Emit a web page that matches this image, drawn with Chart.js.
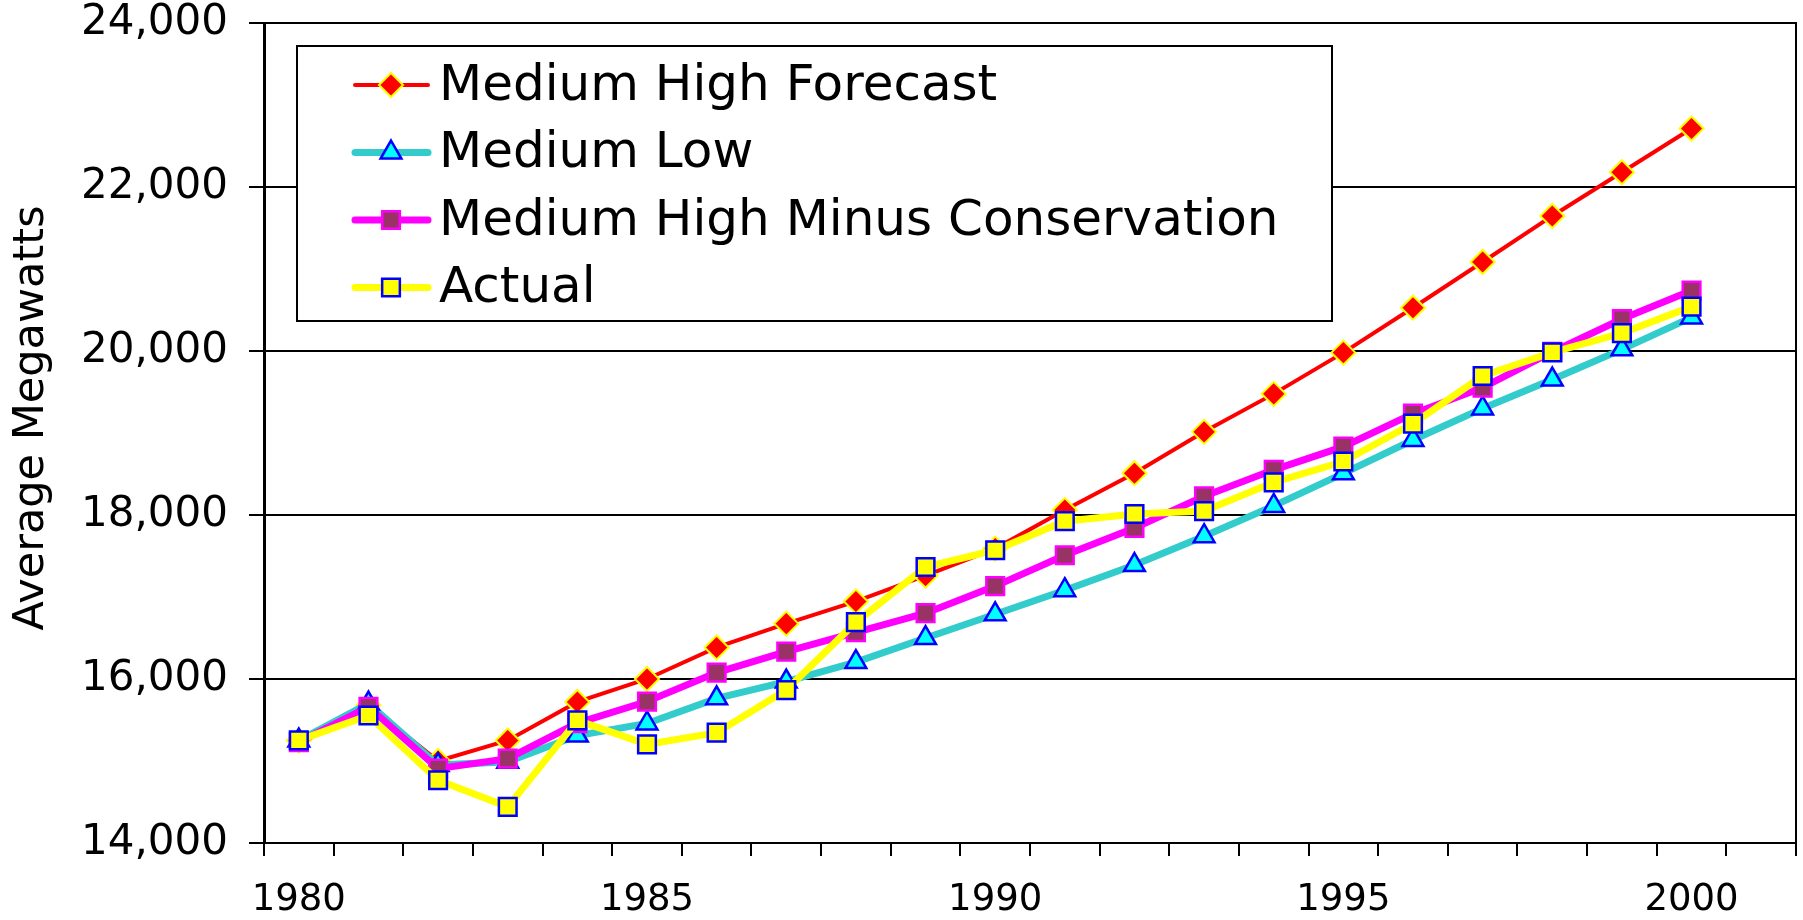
<!DOCTYPE html>
<html>
<head>
<meta charset="utf-8">
<title>Average Megawatts</title>
<script src="https://cdn.jsdelivr.net/npm/chart.js@4/dist/chart.umd.min.js"></script>
<style>
    html, body { margin: 0; padding: 0; background: #ffffff; }
    #wrap { width: 1803px; height: 920px; }
</style>
</head>
<body>
<div id="wrap"><canvas id="loadChart" width="1803" height="920"></canvas></div>
<script>
// categories (last one is an empty slot, like the original axis)
const years = ['1980', '1981', '1982', '1983', '1984', '1985', '1986', '1987', '1988', '1989', '1990',
    '1991', '1992', '1993', '1994', '1995', '1996', '1997', '1998', '1999', '2000', '2001'];
const yearLabels = ['1980', '1985', '1990', '1995', '2000'];
const yTicks = [14000, 16000, 18000, 20000, 22000, 24000];

const mediumHigh = [15250, 15680, 15000, 15250, 15720, 16000, 16385, 16675, 16946, 17260, 17590,
    18060, 18510, 19014, 19477, 19980, 20528, 21085, 21647, 22180, 22713];
const mediumLow = [15250, 15700, 14950, 14990, 15310, 15458, 15764, 15969, 16206, 16500, 16789,
    17083, 17390, 17741, 18111, 18508, 18915, 19300, 19652, 20020, 20410];
const highMinusCons = [15230, 15660, 14907, 15029, 15462, 15725, 16078, 16334, 16570, 16803, 17133,
    17509, 17842, 18229, 18551, 18833, 19236, 19553, 19990, 20390, 20737];
const actual = [15251, 15555, 14765, 14441, 15495, 15203, 15345, 15865, 16693, 17366, 17570,
    17925, 18012, 18048, 18398, 18652, 19115, 19695, 19984, 20218, 20541];

const FONT = 'DejaVu Sans, Verdana, sans-serif';

// small marker painter for the legend box
function drawMarker(ctx, ds, x, y) {
    const r = ds.pointRadius;
    ctx.save();
    ctx.fillStyle = ds.pointBackgroundColor;
    ctx.strokeStyle = ds.pointBorderColor;
    ctx.lineWidth = ds.pointBorderWidth;
    ctx.beginPath();
    if (ds.pointStyle === 'rectRot') {
        ctx.moveTo(x - r, y);
        ctx.lineTo(x, y - r);
        ctx.lineTo(x + r, y);
        ctx.lineTo(x, y + r);
    } else if (ds.pointStyle === 'triangle') {
        ctx.moveTo(x, y - r);
        ctx.lineTo(x + r * Math.sin(Math.PI * 2 / 3), y - r * Math.cos(Math.PI * 2 / 3));
        ctx.lineTo(x - r * Math.sin(Math.PI * 2 / 3), y - r * Math.cos(Math.PI * 2 / 3));
    } else {
        const s = r * Math.SQRT1_2;
        ctx.rect(x - s, y - s, 2 * s, 2 * s);
    }
    ctx.closePath();
    ctx.fill();
    ctx.stroke();
    ctx.restore();
}

const boxLegend = {
    id: 'boxLegend',
    afterDraw(chart) {
        const ctx = chart.ctx;
        const area = chart.chartArea;
        const left = area.left + 33, top = area.top + 23;
        const w = 1035, h = 275;
        ctx.save();
        ctx.fillStyle = '#ffffff';
        ctx.fillRect(left, top, w, h);
        ctx.strokeStyle = '#000000';
        ctx.lineWidth = 2;
        ctx.strokeRect(left, top, w, h);

        // legend rows follow the legend order (not the drawing order)
        const rows = chart.data.datasets.slice().sort((a, b) => a.legendIndex - b.legendIndex);
        rows.forEach((ds, i) => {
            const y = top + 39 + i * 67.5;
            ctx.strokeStyle = ds.borderColor;
            ctx.lineWidth = ds.borderWidth;
            ctx.lineCap = 'round';
            ctx.beginPath();
            ctx.moveTo(left + 58, y);
            ctx.lineTo(left + 131, y);
            ctx.stroke();
            drawMarker(ctx, ds, left + 94, y);
            ctx.fillStyle = '#000000';
            ctx.font = '50px ' + FONT;
            ctx.textBaseline = 'middle';
            ctx.fillText(ds.label, left + 142, y + 2);
        });
        ctx.restore();
    }
};

const plotFrame = {
    id: 'plotFrame',
    afterDatasetsDraw(chart) {
        const a = chart.chartArea;
        const ctx = chart.ctx;
        ctx.save();
        ctx.strokeStyle = '#000000';
        ctx.lineWidth = 2;
        ctx.beginPath();
        ctx.moveTo(a.left, a.top);
        ctx.lineTo(a.right, a.top);
        ctx.lineTo(a.right, a.bottom);
        ctx.stroke();
        ctx.restore();
    }
};

// y axis caption, placed like the original (a bit above the plot centre)
const yCaption = {
    id: 'yCaption',
    afterDraw(chart) {
        const ctx = chart.ctx;
        ctx.save();
        ctx.translate(32, 418);
        ctx.rotate(-Math.PI / 2);
        ctx.fillStyle = '#000000';
        ctx.font = '43px ' + FONT;
        ctx.textAlign = 'center';
        ctx.textBaseline = 'middle';
        ctx.fillText('Average Megawatts', 0, 0);
        ctx.restore();
    }
};

const ctx = document.getElementById('loadChart').getContext('2d');
const loadChart = new Chart(ctx, {
    type: 'line',
    data: {
        labels: years,
        datasets: [
            {
                label: 'Medium High Forecast',
                legendIndex: 0,
                order: 4,
                data: mediumHigh,
                borderColor: '#ff0000',
                borderWidth: 4,
                pointStyle: 'rectRot',
                pointRadius: 12,
                pointBackgroundColor: '#ff0000',
                pointBorderColor: '#ffff00',
                pointBorderWidth: 2
            },
            {
                label: 'Medium Low',
                legendIndex: 1,
                order: 3,
                data: mediumLow,
                borderColor: '#33cccc',
                borderWidth: 7,
                pointStyle: 'triangle',
                pointRadius: 12,
                pointBackgroundColor: '#00ffff',
                pointBorderColor: '#0000ff',
                pointBorderWidth: 2.5
            },
            {
                label: 'Medium High Minus Conservation',
                legendIndex: 2,
                order: 2,
                data: highMinusCons,
                borderColor: '#ff00ff',
                borderWidth: 7,
                pointStyle: 'rect',
                pointRadius: 12.5,
                pointBackgroundColor: '#993366',
                pointBorderColor: '#ff00ff',
                pointBorderWidth: 2.5
            },
            {
                label: 'Actual',
                legendIndex: 3,
                order: 1,
                data: actual,
                borderColor: '#ffff00',
                borderWidth: 7,
                pointStyle: 'rect',
                pointRadius: 12.5,
                pointBackgroundColor: '#ffff00',
                pointBorderColor: '#0000ff',
                pointBorderWidth: 2.5
            }
        ]
    },
    options: {
        responsive: false,
        animation: false,
        devicePixelRatio: 1,
        layout: {
            autoPadding: false,
            padding: { top: 23, right: 7, left: 0, bottom: 0 }
        },
        elements: {
            line: { tension: 0, fill: false }
        },
        plugins: {
            legend: { display: false },
            tooltip: { enabled: false }
        },
        scales: {
            x: {
                type: 'category',
                offset: true,
                grid: {
                    offset: true,
                    drawOnChartArea: false,
                    drawTicks: true,
                    tickLength: 13,
                    color: '#000000',
                    lineWidth: 2
                },
                border: { display: true, color: '#000000', width: 2 },
                ticks: {
                    autoSkip: false,
                    maxRotation: 0,
                    padding: 26,
                    color: '#000000',
                    font: { family: FONT, size: 37, lineHeight: 1 },
                    callback: function (value) {
                        const lbl = this.getLabelForValue(value);
                        return yearLabels.includes(lbl) ? lbl : '';
                    }
                },
                afterFit: function (scale) {
                    scale.height = 77;
                    scale.paddingLeft = 0;
                    scale.paddingRight = 0;
                }
            },
            y: {
                min: 14000,
                max: 24000,
                afterBuildTicks: function (scale) {
                    scale.ticks = yTicks.map(v => ({ value: v }));
                },
                grid: {
                    color: '#000000',
                    lineWidth: 2,
                    tickLength: 15
                },
                border: { display: true, color: '#000000', width: 3 },
                ticks: {
                    padding: 21,
                    color: '#000000',
                    font: { family: FONT, size: 42, lineHeight: 1 },
                    callback: value => value.toLocaleString('en-US')
                },
                afterFit: function (scale) {
                    scale.width = 264;
                    scale.paddingTop = 0;
                    scale.paddingBottom = 0;
                }
            }
        }
    },
    plugins: [plotFrame, boxLegend, yCaption]
});
</script>
</body>
</html>
